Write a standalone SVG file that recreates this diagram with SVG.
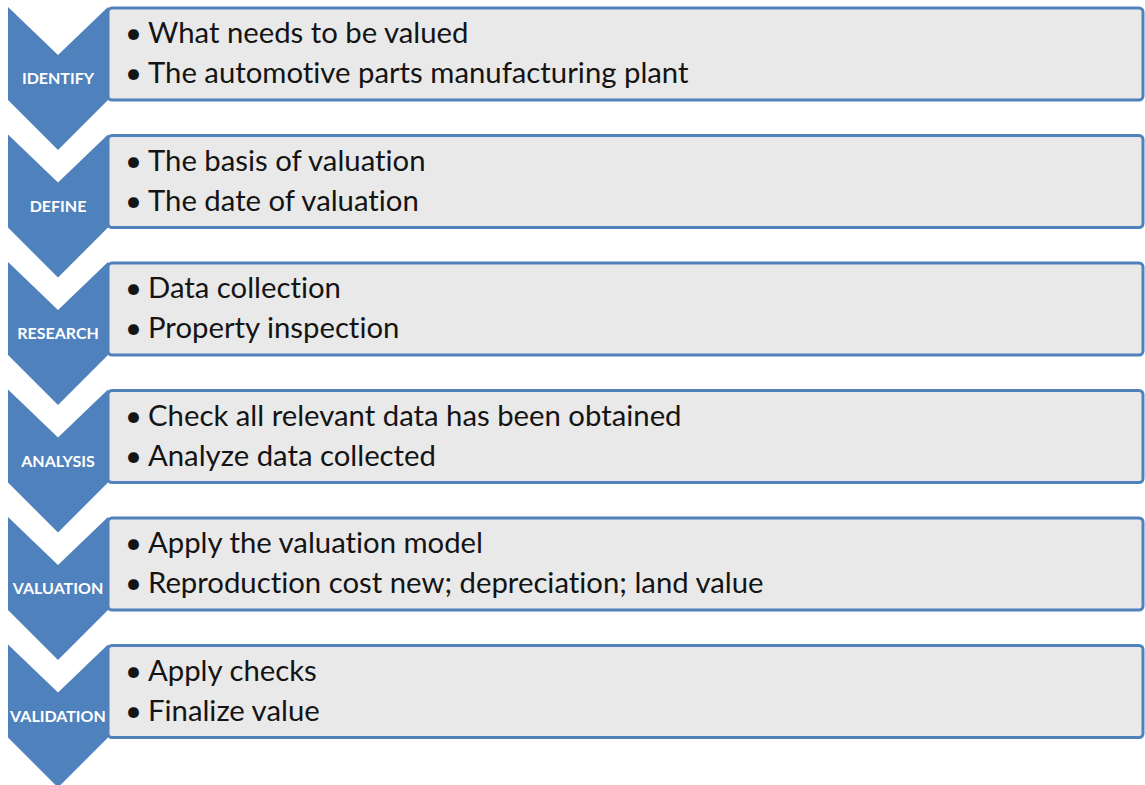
<svg xmlns="http://www.w3.org/2000/svg" width="1145" height="785" viewBox="0 0 1145 785">
  <style>
    .chev { fill: #4F81BD; }
    .box { fill: #E9E9E9; stroke: #4F81BD; stroke-width: 3; }
    .lbl { font-family: Lato, "Open Sans", "Liberation Sans", sans-serif; font-weight: bold; font-size: 16px; fill: #FFFFFF; text-anchor: middle; font-variant-ligatures: none; }
    .txt { font-family: Lato, "Open Sans", "Liberation Sans", sans-serif; font-size: 29.3px; fill: #141414; font-variant-ligatures: none; }
  </style>
  <defs>
    <!-- one step: down-pointing chevron plus the text panel beside it -->
    <path id="chevron" d="M8,0 L58,48 L108,0 L108,93 L58,143 L8,93 Z"/>
  </defs>
  <rect width="1145" height="785" fill="#FFFFFF"/>

  <g id="step-identify" transform="translate(0,7)">
    <rect class="box" x="108" y="1" width="1035" height="92" rx="4"/>
    <use href="#chevron" class="chev"/>
    <text class="lbl" x="58" y="77">IDENTIFY</text>
    <text class="txt" x="125" y="36">•</text><text class="txt" x="148" y="36">What needs to be valued</text>
    <text class="txt" x="125" y="76">•</text><text class="txt" x="148" y="76">The automotive parts manufacturing plant</text>
  </g>

  <g id="step-define" transform="translate(0,134.5)">
    <rect class="box" x="108" y="1" width="1035" height="92" rx="4"/>
    <use href="#chevron" class="chev"/>
    <text class="lbl" x="58" y="77">DEFINE</text>
    <text class="txt" x="125" y="36">•</text><text class="txt" x="148" y="36">The basis of valuation</text>
    <text class="txt" x="125" y="76">•</text><text class="txt" x="148" y="76">The date of valuation</text>
  </g>

  <g id="step-research" transform="translate(0,262)">
    <rect class="box" x="108" y="1" width="1035" height="92" rx="4"/>
    <use href="#chevron" class="chev"/>
    <text class="lbl" x="58" y="77">RESEARCH</text>
    <text class="txt" x="125" y="36">•</text><text class="txt" x="148" y="36">Data collection</text>
    <text class="txt" x="125" y="76">•</text><text class="txt" x="148" y="76">Property inspection</text>
  </g>

  <g id="step-analysis" transform="translate(0,389.5)">
    <rect class="box" x="108" y="1" width="1035" height="92" rx="4"/>
    <use href="#chevron" class="chev"/>
    <text class="lbl" x="58" y="77">ANALYSIS</text>
    <text class="txt" x="125" y="36">•</text><text class="txt" x="148" y="36">Check all relevant data has been obtained</text>
    <text class="txt" x="125" y="76">•</text><text class="txt" x="148" y="76">Analyze data collected</text>
  </g>

  <g id="step-valuation" transform="translate(0,517)">
    <rect class="box" x="108" y="1" width="1035" height="92" rx="4"/>
    <use href="#chevron" class="chev"/>
    <text class="lbl" x="58" y="77">VALUATION</text>
    <text class="txt" x="125" y="36">•</text><text class="txt" x="148" y="36">Apply the valuation model</text>
    <text class="txt" x="125" y="76">•</text><text class="txt" x="148" y="76">Reproduction cost new; depreciation; land value</text>
  </g>

  <g id="step-validation" transform="translate(0,644.5)">
    <rect class="box" x="108" y="1" width="1035" height="92" rx="4"/>
    <use href="#chevron" class="chev"/>
    <text class="lbl" x="58" y="77">VALIDATION</text>
    <text class="txt" x="125" y="36">•</text><text class="txt" x="148" y="36">Apply checks</text>
    <text class="txt" x="125" y="76">•</text><text class="txt" x="148" y="76">Finalize value</text>
  </g>

  <g id="connectors"/>
</svg>
